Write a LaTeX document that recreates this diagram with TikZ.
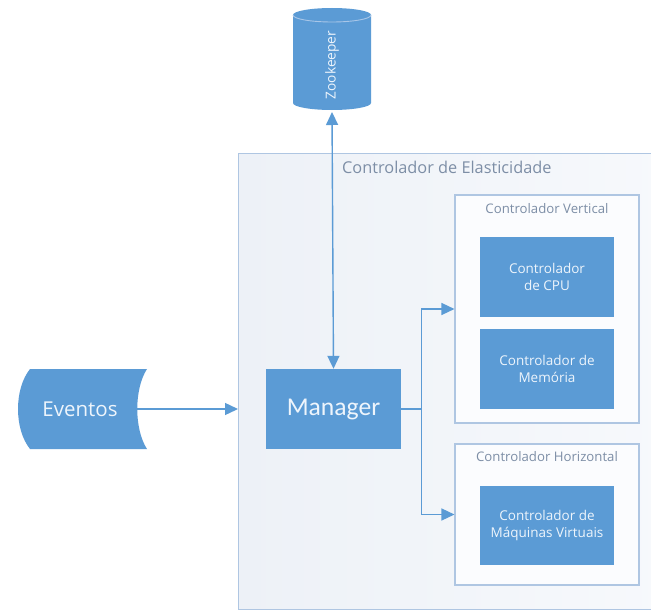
\documentclass[tikz,border=0pt]{standalone}
\usepackage{fontspec}
\setmainfont{Carlito}
\newfontfamily\labelfont{Open Sans}
\usetikzlibrary{arrows.meta}
\definecolor{blu}{HTML}{5B9BD5}
\definecolor{lightblu}{HTML}{A8C6E8}
\definecolor{frameedge}{HTML}{AFC6E2}
\definecolor{titlegrey}{HTML}{7D8EA6}
\definecolor{paletext}{HTML}{EEF5FC}
\definecolor{frameleft}{HTML}{EDF1F7}
\definecolor{frameright}{HTML}{F7F9FC}
\definecolor{groupfill}{HTML}{FBFCFE}

\tikzset{
  conn/.style={draw=blu, line width=1.4pt, -{Triangle[length=13pt,width=12pt]}},
  bluebox/.style={fill=blu, draw=none, minimum width=134pt, minimum height=80pt,
    inner sep=0pt, align=center, text=paletext, font=\labelfont\fontsize{13.5}{17.5}\selectfont},
  groupbox/.style={draw=frameedge, line width=1.1pt, fill=groupfill, inner sep=0pt},
  grouptitle/.style={text=titlegrey, font=\labelfont\fontsize{13.2}{16}\selectfont, inner sep=0pt},
}

\begin{document}
\begin{tikzpicture}[x=1pt,y=-1pt]
\clip (0,0) rectangle (651,610);
\fill[white] (0,0) rectangle (651,610);

% outer frame: elasticity controller
\node[draw=frameedge, line width=1.1pt, left color=frameleft, right color=frameright,
      minimum width=430pt, minimum height=456pt, anchor=north west, inner sep=0pt]
      (elast) at (238,153) {};
\node[anchor=west, text=titlegrey, font=\labelfont\fontsize{16.3}{20}\selectfont, inner sep=0pt]
      (elasttitle) at (342,167) {Controlador de Elasticidade};

% vertical controller group
\node[groupbox, minimum width=184pt, minimum height=228pt] (vc) at (547,309) {};
\node[grouptitle] (vctitle) at (547,209) {Controlador Vertical};
\node[bluebox] (cpu) at (547,277) {Controlador\\de CPU};
\node[bluebox] (mem) at (547,369) {Controlador de\\Memória};

% horizontal controller group
\node[groupbox, minimum width=184pt, minimum height=141pt] (hc) at (547,514.5) {};
\node[grouptitle] (hctitle) at (547,457) {Controlador Horizontal};
\node[bluebox, minimum height=79pt] (vm) at (547,525.5) {Controlador de\\Máquinas Virtuais};

% manager
\node[fill=blu, minimum width=135pt, minimum height=80pt, inner sep=0pt, text=paletext,
      font=\fontsize{25.6}{30}\selectfont] (mgr) at (333.5,409) {Manager};

% zookeeper cylinder
\fill[blu] (293,15) -- (293,103) arc (180:0:39 and 7) -- (371,15) arc (0:-180:39 and 7) -- cycle;
\draw[lightblu, line width=0.9pt] (293,15) arc (180:0:39 and 7);
\node[rotate=90, text=paletext, font=\labelfont\fontsize{13.7}{16}\selectfont, inner sep=0pt] (zk) at (332,65) {Zookeeper};
\coordinate (zkbase) at (332,112);

% events (stored data shape)
\fill[blu] (30,369) -- (147,369) .. controls (134,389) and (134,429) .. (147,449)
      -- (30,449) .. controls (14,429) and (14,389) .. (30,369) -- cycle;
\node[minimum width=114pt, minimum height=80pt, inner sep=0pt, text=paletext,
      font=\labelfont\fontsize{20.5}{24}\selectfont] (ev) at (80,409) {Eventos};

% connectors
\draw[conn, {Triangle[length=13pt,width=12pt]}-{Triangle[length=13pt,width=12pt]}] (zkbase) -- (mgr.north);
\draw[conn] (ev.east) -- (ev.east -| elast.west);
\draw[conn] (mgr.east) -- ++(20,0) |- (vc.west);
\draw[conn] (mgr.east) -- ++(20,0) |- (hc.west);
\end{tikzpicture}
\end{document}
